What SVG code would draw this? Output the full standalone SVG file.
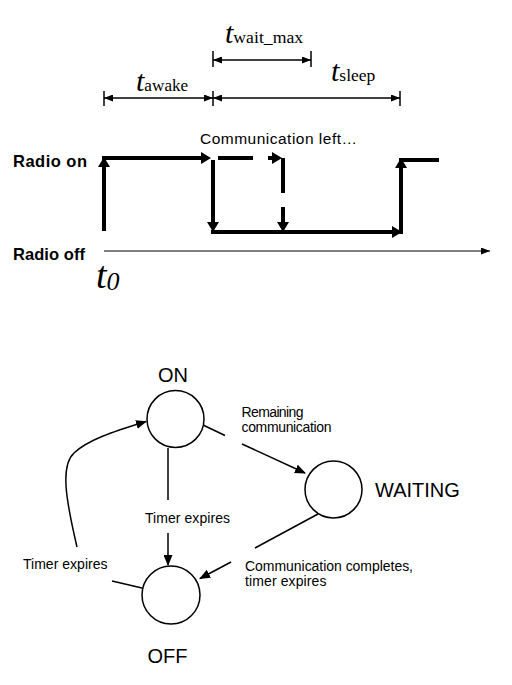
<svg xmlns="http://www.w3.org/2000/svg" width="512" height="685" viewBox="0 0 512 685">
  <defs>
    <style>
      .sig { stroke: #000; stroke-width: 4; fill: none; }
      .dim { stroke: #000; stroke-width: 1.5; fill: none; }
      .tick { stroke: #000; stroke-width: 1.5; }
      .axis { stroke: #000; stroke-width: 1.2; fill: none; }
      .edge { stroke: #000; stroke-width: 1.5; fill: none; }
      .state { stroke: #000; stroke-width: 1.5; fill: #fff; }
      .serif { font-family: "Liberation Serif", "Times New Roman", serif; fill: #000; }
      .sans { font-family: "Liberation Sans", Arial, sans-serif; fill: #000; }
      .lbl { font-family: "Liberation Sans", Arial, sans-serif; font-size: 14px; fill: #000; }
      .big { font-family: "Liberation Sans", Arial, sans-serif; font-size: 20px; fill: #000; }
    </style>
    <marker id="thick" markerUnits="userSpaceOnUse" markerWidth="10" markerHeight="12" refX="4" refY="6" orient="auto">
      <path d="M0,0 L10,6 L0,12 z" fill="#000"/>
    </marker>
    <marker id="dimarr" markerUnits="userSpaceOnUse" markerWidth="9" markerHeight="7" refX="9" refY="3.5" orient="auto-start-reverse">
      <path d="M0,0 L9,3.5 L0,7 z" fill="#000"/>
    </marker>
    <marker id="axarr" markerUnits="userSpaceOnUse" markerWidth="9" markerHeight="7" refX="9" refY="3.5" orient="auto">
      <path d="M0,0 L9,3.5 L0,7 z" fill="#000"/>
    </marker>
    <marker id="earr" markerUnits="userSpaceOnUse" markerWidth="11" markerHeight="9" refX="10" refY="4.5" orient="auto">
      <path d="M0,0 L11,4.5 L0,9 z" fill="#000"/>
    </marker>
  </defs>

  <rect width="512" height="685" fill="#fff"/>

  <!-- Timing chart (drawn directly) -->
  <g id="timing">
    <!-- dimension lines -->
    <line class="dim" x1="104" y1="98" x2="213" y2="98" marker-start="url(#dimarr)" marker-end="url(#dimarr)"/>
    <line class="dim" x1="213" y1="98" x2="400" y2="98" marker-start="url(#dimarr)" marker-end="url(#dimarr)"/>
    <line class="dim" x1="213" y1="60" x2="311" y2="60" marker-start="url(#dimarr)" marker-end="url(#dimarr)"/>
    <line class="tick" x1="104" y1="91" x2="104" y2="106"/>
    <line class="tick" x1="213" y1="91" x2="213" y2="106"/>
    <line class="tick" x1="400" y1="91" x2="400" y2="106"/>
    <line class="tick" x1="213" y1="51" x2="213" y2="67"/>
    <line class="tick" x1="311" y1="51" x2="311" y2="67"/>

    <text class="serif" x="225" y="43"><tspan font-size="30" font-style="italic">t</tspan><tspan font-size="17.7">wait_max</tspan></text>
    <text class="serif" x="136" y="91"><tspan font-size="30" font-style="italic">t</tspan><tspan font-size="17.2">awake</tspan></text>
    <text class="serif" x="331" y="81"><tspan font-size="30" font-style="italic">t</tspan><tspan font-size="17.5">sleep</tspan></text>

    <text class="sans" x="200" y="144" font-size="15.5" textLength="157">Communication left…</text>
    <text class="sans" x="13" y="167" font-size="16.5" font-weight="bold" textLength="74">Radio on</text>
    <text class="sans" x="13" y="260" font-size="16.5" font-weight="bold" textLength="72">Radio off</text>
    <text class="serif" x="96" y="288"><tspan font-size="38" font-style="italic">t</tspan><tspan font-size="26" font-style="italic" dy="2">0</tspan></text>

    <!-- time axis -->
    <line class="axis" x1="104" y1="251" x2="490" y2="251" marker-end="url(#axarr)"/>

    <!-- radio signal -->
    <line class="sig" x1="104" y1="231" x2="104" y2="163" marker-end="url(#thick)"/>
    <line class="sig" x1="102" y1="158" x2="205" y2="158" marker-end="url(#thick)"/>
    <line class="sig" x1="213" y1="160" x2="213" y2="226" marker-end="url(#thick)"/>
    <line class="sig" x1="218" y1="158" x2="253" y2="158"/>
    <line class="sig" x1="268" y1="158" x2="276" y2="158" marker-end="url(#thick)"/>
    <line class="sig" x1="283" y1="158" x2="283" y2="193"/>
    <line class="sig" x1="283" y1="207" x2="283" y2="226" marker-end="url(#thick)"/>
    <line class="sig" x1="211" y1="232" x2="396" y2="232" marker-end="url(#thick)"/>
    <line class="sig" x1="401" y1="234" x2="401" y2="164" marker-end="url(#thick)"/>
    <line class="sig" x1="399" y1="160" x2="439" y2="160"/>
  </g>

  <!-- State diagram connectors -->
  <g id="connectors">
    <!-- ON -> WAITING -->
    <line class="edge" x1="203" y1="425" x2="225" y2="435.5"/>
    <line class="edge" x1="242" y1="444" x2="305" y2="473" marker-end="url(#earr)"/>
    <text class="lbl" x="241.5" y="417" font-size="13" textLength="62">Remaining</text>
    <text class="lbl" x="241.5" y="432" font-size="13" textLength="90">communication</text>

    <!-- ON -> OFF -->
    <line class="edge" x1="168" y1="448" x2="168" y2="500"/>
    <line class="edge" x1="168" y1="533" x2="168" y2="565" marker-end="url(#earr)"/>
    <text class="lbl" x="145" y="523" textLength="85">Timer expires</text>

    <!-- WAITING -> OFF -->
    <line class="edge" x1="318" y1="514" x2="255" y2="548"/>
    <line class="edge" x1="231" y1="562" x2="200" y2="578.5" marker-end="url(#earr)"/>
    <text class="lbl" x="245" y="571" textLength="168">Communication completes,</text>
    <text class="lbl" x="245" y="586" textLength="81.5">timer expires</text>

    <!-- OFF -> ON -->
    <line class="edge" x1="142" y1="588" x2="112" y2="581"/>
    <path class="edge" d="M77,547 C66,500 60,466 74,453 S112,432 146,421.5" marker-end="url(#earr)"/>
    <text class="lbl" x="23" y="569" textLength="84.5">Timer expires</text>
  </g>

  <!-- Nodes -->
  <g id="node-on">
    <circle class="state" cx="175.5" cy="419" r="28.5"/>
    <text class="big" x="173" y="382" text-anchor="middle">ON</text>
  </g>
  <g id="node-waiting">
    <circle class="state" cx="333.5" cy="489.5" r="28.5"/>
    <text class="big" x="375" y="497" font-size="21">WAITING</text>
  </g>
  <g id="node-off">
    <circle class="state" cx="171" cy="595" r="29"/>
    <text class="big" x="167.5" y="663" text-anchor="middle">OFF</text>
  </g>
</svg>
